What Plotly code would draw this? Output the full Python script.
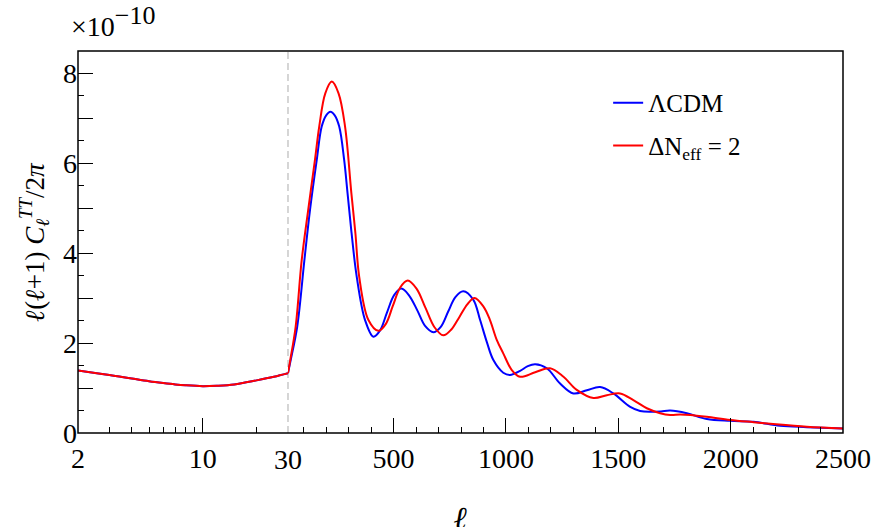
import plotly.graph_objects as go

# ---------------- data (values in units of 1e-10) ----------------
ell_low = [2, 3, 4, 5, 6, 7, 8, 10, 12, 15, 20, 25, 30]
cl_lcdm_low = [1.39, 1.29, 1.21, 1.15, 1.11, 1.08, 1.06, 1.04, 1.05, 1.08, 1.17, 1.25, 1.33]
cl_neff_low = [1.39, 1.29, 1.21, 1.15, 1.11, 1.08, 1.06, 1.04, 1.05, 1.08, 1.17, 1.25, 1.33]

ell_lcdm = [30, 42, 71, 103, 128, 158, 180, 200, 219, 238, 258, 280, 295, 313, 336, 373, 410, 440, 470,
            503, 535, 570, 606, 640, 677, 710, 743, 775, 810, 855, 885, 915, 944, 988, 1018, 1063,
            1095, 1130, 1182, 1241, 1300, 1360, 1419, 1478, 1553, 1597, 1642, 1690, 1731, 1805,
            1894, 1998, 2102, 2220, 2339, 2500]
cl_lcdm = [1.33, 1.62, 2.36, 3.84, 4.96, 6.07, 6.81, 7.06, 7.14, 7.06, 6.81, 6.07, 5.33, 4.44, 3.47, 2.51, 2.14, 2.28, 2.67,
           3.07, 3.21, 3.05, 2.72, 2.38, 2.24, 2.36, 2.70, 3.02, 3.15, 2.96, 2.51, 2.02, 1.62, 1.34, 1.29, 1.38,
           1.48, 1.53, 1.44, 1.10, 0.88, 0.95, 1.02, 0.88, 0.58, 0.49, 0.47, 0.48, 0.50, 0.44,
           0.31, 0.27, 0.25, 0.16, 0.13, 0.10]

ell_neff = [30, 40, 64, 91, 120, 150, 169, 196, 225, 255, 284, 312, 330, 347, 388, 432, 465, 497,
            530, 563, 602, 642, 682, 721, 757, 793, 828, 860, 900, 929, 959, 988, 1026, 1063,
            1130, 1196, 1256, 1315, 1389, 1449, 1508, 1567, 1627, 1686, 1731, 1775, 1820, 1894,
            1998, 2102, 2189, 2339, 2500]
cl_neff = [1.33, 1.62, 2.36, 3.84, 4.96, 6.07, 6.81, 7.55, 7.81, 7.55, 6.81, 5.33, 4.44, 3.47, 2.51, 2.27, 2.42, 2.83,
           3.24, 3.39, 3.21, 2.78, 2.35, 2.17, 2.30, 2.58, 2.86, 3.00, 2.81, 2.51, 2.07, 1.77, 1.40, 1.25,
           1.35, 1.44, 1.25, 0.96, 0.78, 0.84, 0.88, 0.73, 0.55, 0.44, 0.40, 0.41, 0.40, 0.36,
           0.29, 0.24, 0.20, 0.14, 0.10]

log_ticks = [2, 10]
log_minor = [3, 4, 5, 6, 7, 8, 9, 20]
lin_ticks = [500, 1000, 1500, 2000, 2500]
y_ticks = [0, 1, 2, 3, 4, 5, 6, 7, 8]
y_ticktext = ["0", "", "2", "", "4", "", "6", "", "8"]

BLUE = "#0000ff"
RED = "#ff0000"
FONT = "Liberation Serif"
SPLIT = 0.2745  # fraction of plot width used by the log part

fig = go.Figure()

fig.add_trace(go.Scatter(x=ell_low, y=cl_lcdm_low, mode="lines", xaxis="x", yaxis="y",
                         line=dict(color=BLUE, width=2, shape="spline"), showlegend=False))
fig.add_trace(go.Scatter(x=ell_low, y=cl_neff_low, mode="lines", xaxis="x", yaxis="y",
                         line=dict(color=RED, width=2, shape="spline"), showlegend=False))
fig.add_trace(go.Scatter(x=ell_lcdm, y=cl_lcdm, mode="lines", xaxis="x2", yaxis="y",
                         line=dict(color=BLUE, width=2, shape="spline", smoothing=1),
                         name="ΛCDM", legend="legend"))
fig.add_trace(go.Scatter(x=ell_neff, y=cl_neff, mode="lines", xaxis="x2", yaxis="y",
                         line=dict(color=RED, width=2, shape="spline", smoothing=1),
                         name="ΔN<sub>eff</sub> = 2", legend="legend2"))

tickfont = dict(family=FONT, size=28, color="black")

fig.update_layout(
    width=876, height=527,
    margin=dict(l=78, r=33, t=51, b=94, autoexpand=False),
    paper_bgcolor="white", plot_bgcolor="white",
    font=dict(family=FONT, color="black"),
    xaxis=dict(type="log", domain=[0, SPLIT], range=[0.30103, 1.4771213],
               tickmode="array", tickvals=log_ticks, ticktext=["2", "10"],
               ticks="inside", ticklen=15, tickwidth=1.3, tickcolor="black",
               ticklabelstandoff=6,
               minor=dict(tickmode="array", tickvals=log_minor, ticks="inside",
                          ticklen=6, tickwidth=1.3, tickcolor="black", showgrid=False),
               showgrid=False, zeroline=False, showline=False, automargin=False,
               tickfont=tickfont, anchor="y"),
    xaxis2=dict(type="linear", domain=[SPLIT, 1], range=[30, 2500],
                tickmode="array", tickvals=lin_ticks,
                ticks="inside", ticklen=15, tickwidth=1.3, tickcolor="black",
                ticklabelstandoff=6,
                minor=dict(dtick=100, tick0=0, ticks="inside", ticklen=6,
                           tickwidth=1.3, tickcolor="black", showgrid=False),
                showgrid=False, zeroline=False, showline=False, automargin=False,
                tickfont=tickfont, anchor="y"),
    yaxis=dict(range=[0, 8.49], tickmode="array", tickvals=y_ticks, ticktext=y_ticktext,
               ticks="inside", ticklen=15, tickwidth=1.3, tickcolor="black",
               minor=dict(dtick=0.5, tick0=0, ticks="inside", ticklen=6,
                          tickwidth=1.3, tickcolor="black", showgrid=False),
               showgrid=False, zeroline=False, showline=False, automargin=False,
               tickfont=tickfont, anchor="x"),
    legend=dict(x=0.693, y=0.864, xanchor="left", yanchor="middle",
                bgcolor="rgba(0,0,0,0)", borderwidth=0,
                font=dict(family=FONT, size=25, color="black")),
    legend2=dict(x=0.693, y=0.752, xanchor="left", yanchor="middle",
                 bgcolor="rgba(0,0,0,0)", borderwidth=0,
                 font=dict(family=FONT, size=25, color="black")),
    showlegend=True,
)

# frame
fig.add_shape(type="rect", xref="paper", yref="paper", x0=0, x1=1, y0=0, y1=1,
              line=dict(color="black", width=1.5), layer="above")
# dashed separator at ell = 30
fig.add_shape(type="line", xref="paper", yref="paper", x0=SPLIT, x1=SPLIT, y0=0, y1=1,
              line=dict(color="#cccccc", width=1.6, dash="7px,4px"), layer="below")

# "30" label at the junction
fig.add_annotation(xref="paper", yref="paper", x=SPLIT, y=0, yanchor="top", xanchor="center",
                   yshift=-9, text="30", showarrow=False, font=tickfont)
# exponent
fig.add_annotation(xref="paper", yref="paper", x=-0.012, y=1.078, xanchor="left", yanchor="middle",
                   text="×10<sup><span style='font-size:26px'>−10</span></sup>", showarrow=False,
                   font=dict(family=FONT, size=28, color="black"))
# axis titles
fig.add_annotation(xref="paper", yref="paper", x=0.5, y=-0.223, xanchor="center", yanchor="middle",
                   text="<b><i>ℓ</i></b>", showarrow=False,
                   font=dict(family=FONT, size=32, color="black"))
fig.add_annotation(xref="paper", yref="paper", x=-0.057, y=0.5, xanchor="center", yanchor="middle",
                   textangle=-90,
                   text="<b><i>ℓ</i></b>(<b><i>ℓ</i></b>+1) <i>C</i><sub><i>ℓ</i></sub><sup><i>TT</i></sup>/2<i>π</i>",
                   showarrow=False, font=dict(family=FONT, size=27, color="black"))

fig.write_html("out.html", config={"displayModeBar": False},
               post_script="document.body.style.margin='0';")
